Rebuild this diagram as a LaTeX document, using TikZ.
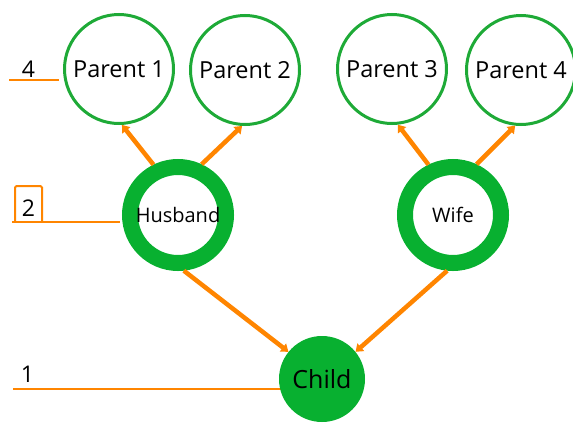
\documentclass[tikz,border=0pt]{standalone}
\usepackage{fontspec}
\setmainfont{Open Sans}
\usetikzlibrary{arrows.meta}
\definecolor{lgreen}{RGB}{30,170,55}
\definecolor{fgreen}{RGB}{8,176,48}
\definecolor{orng}{RGB}{255,133,0}
\tikzset{
  parent/.style={circle,draw=lgreen,line width=3pt,minimum size=109pt,inner sep=0pt,font=\fontsize{23.5}{23.5}\selectfont},
  spouse/.style={circle,draw=fgreen,line width=16pt,minimum size=96pt,inner sep=0pt,font=\fontsize{20}{20}\selectfont},
  childnode/.style={circle,fill=fgreen,minimum size=86pt,inner sep=0pt,font=\fontsize{25}{25}\selectfont},
  link/.style={orng,line width=4.5pt,-{Triangle[length=7pt,width=10pt]}},
  level/.style={orng,line width=2pt},
  lvltext/.style={inner sep=0pt,font=\fontsize{23}{23}\selectfont}
}
\begin{document}
\begin{tikzpicture}[x=1pt,y=-1pt]
\useasboundingbox (0,0) rectangle (573,423);
% level markers
\coordinate (a4) at (9,80);  \coordinate (b4) at (59,80);
\coordinate (a2) at (12,222); \coordinate (b2) at (120,222);
\coordinate (a1) at (13,389); \coordinate (b1) at (282,389);
\draw[level] (a4) -- (b4);
\draw[level] (a2) -- (b2);
\draw[level] (a1) -- (b1);
\draw[level,rounded corners=1.5pt] (15,222) -- (15,186) -- (42,186) -- (42,222);
\node[lvltext] (t4) at (28.5,69.5) {4};
\node[lvltext] (t2) at (28.5,208) {2};
\node[lvltext] (t1) at (27.5,374) {1};
% nodes
\node[parent] (p1) at (119,69) {Parent 1};
\node[parent] (p2) at (245,70) {Parent 2};
\node[parent] (p3) at (392,69) {Parent 3};
\node[parent] (p4) at (521,70) {Parent 4};
\node[spouse] (hus) at (178,215) {Husband};
\node[spouse] (wife) at (453,215) {Wife};
\node[childnode] (child) at (322,379) {Child};
% connectors
\draw[link] (hus.116) -- (p1.273);
\draw[link] (hus.65) -- (p2.267);
\draw[link] (wife.116) -- (p3.276);
\draw[link] (wife.65) -- (p4.264);
\draw[link] (hus.-84) -- (child.141);
\draw[link] (wife.264) -- (child.39);
\end{tikzpicture}
\end{document}
